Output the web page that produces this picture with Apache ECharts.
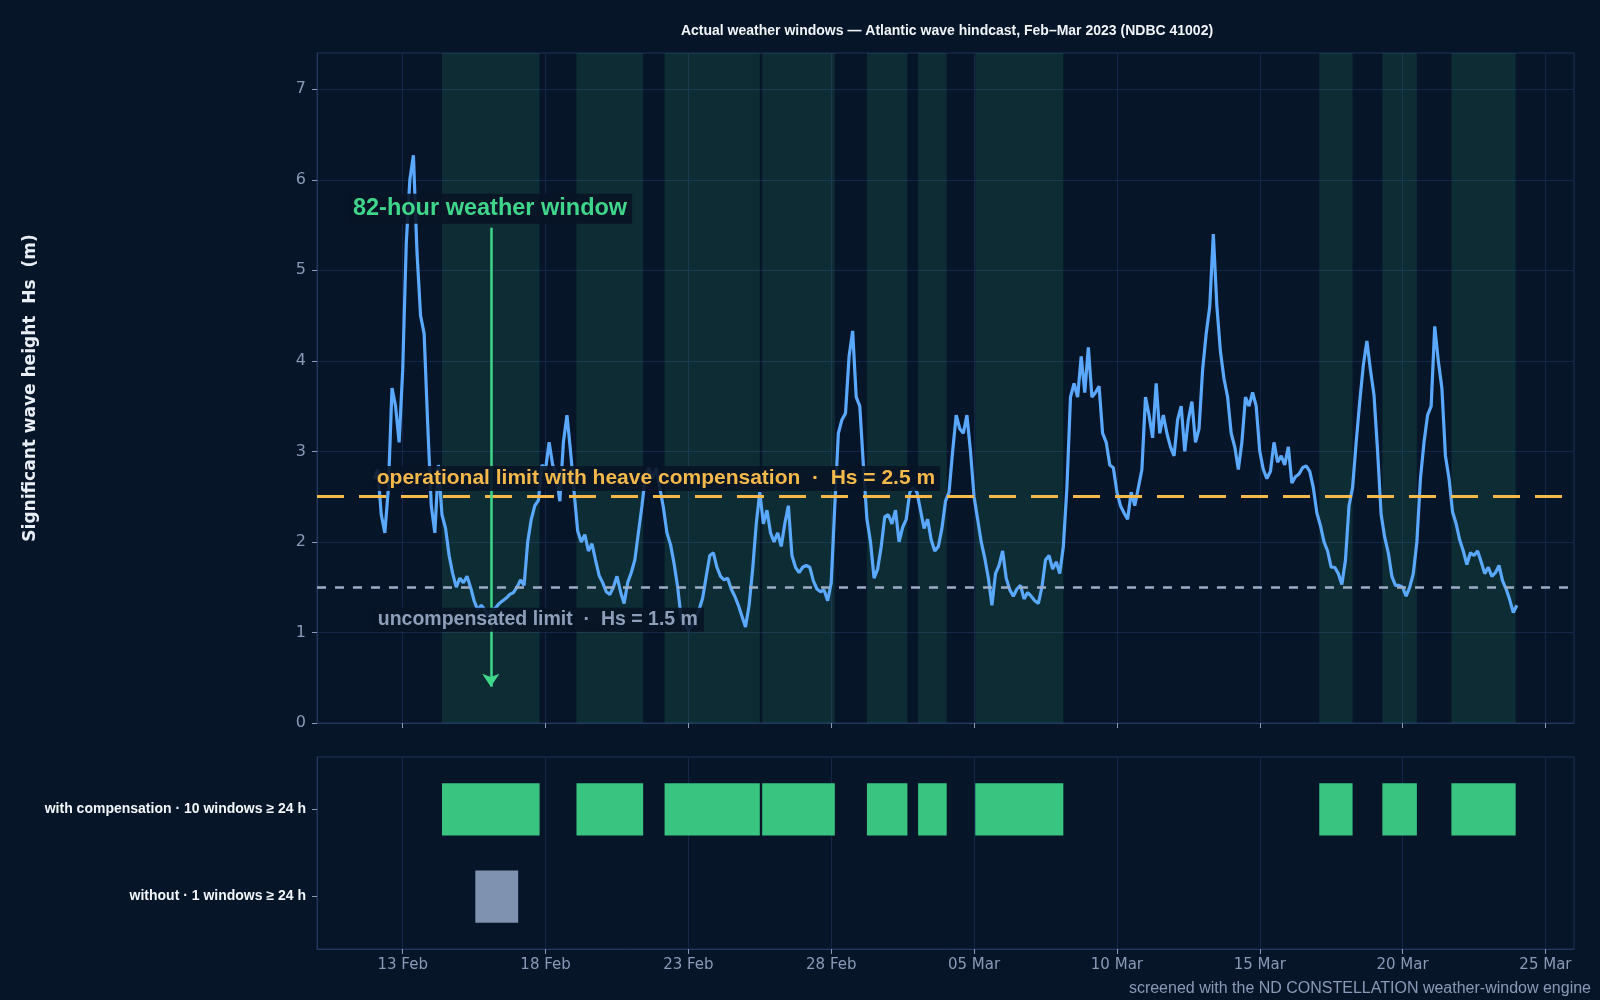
<!DOCTYPE html>
<html>
<head>
<meta charset="utf-8">
<script src="https://cdn.jsdelivr.net/npm/echarts@6/dist/echarts.min.js"></script>
<style>
html, body { margin: 0; padding: 0; background: #071529; }
#main { width: 1600px; height: 1000px; }
</style>
</head>
<body>
<div id="main"></div>
<script>
// hourly hindcast resampled every 3 h, starting 12 Feb 2023 00:00 UTC
const hsStart = Date.UTC(2023, 1, 12, 0)
const hsStepHours = 3
const hs = [
  2.7, 2.8, 2.3, 2.1, 2.6, 3.7, 3.5, 3.1,
  3.9, 5.3, 6.0, 6.27, 5.2, 4.5, 4.3, 3.3,
  2.4, 2.1, 2.85, 2.3, 2.15, 1.85, 1.65, 1.5,
  1.6, 1.55, 1.62, 1.5, 1.35, 1.25, 1.3, 1.25,
  1.18, 1.25, 1.27, 1.32, 1.35, 1.38, 1.42, 1.44,
  1.5, 1.58, 1.52, 2.0, 2.25, 2.4, 2.46, 2.85,
  2.8, 3.1, 2.85, 2.75, 2.45, 3.1, 3.4, 3.0,
  2.55, 2.12, 2.0, 2.08, 1.9, 1.98, 1.8, 1.63,
  1.55, 1.45, 1.42, 1.5, 1.62, 1.45, 1.32, 1.55,
  1.66, 1.8, 2.1, 2.4, 2.75, 2.82, 2.7, 2.82,
  2.6, 2.38, 2.1, 1.97, 1.76, 1.5, 1.15, 1.1,
  1.02, 1.08, 1.16, 1.25, 1.38, 1.62, 1.85, 1.88,
  1.72, 1.62, 1.58, 1.6, 1.48, 1.4, 1.3, 1.18,
  1.06, 1.3, 1.7, 2.2, 2.55, 2.2, 2.35, 2.1,
  2.0, 2.1, 1.95, 2.2, 2.4, 1.85, 1.72, 1.66,
  1.72, 1.74, 1.72, 1.57, 1.48, 1.45, 1.47, 1.35,
  1.55, 2.4, 3.2, 3.35, 3.42, 4.05, 4.33, 3.6,
  3.5, 2.85, 2.25, 2.0, 1.6, 1.7, 1.95, 2.28,
  2.3, 2.2, 2.35, 2.0, 2.16, 2.25, 2.55, 2.6,
  2.55, 2.35, 2.15, 2.25, 2.02, 1.9, 1.95, 2.15,
  2.45, 2.55, 3.0, 3.4, 3.25, 3.2, 3.4, 3.0,
  2.5, 2.25, 2.0, 1.82, 1.6, 1.3, 1.65, 1.74,
  1.9, 1.6, 1.47, 1.4, 1.48, 1.52, 1.37, 1.44,
  1.4, 1.35, 1.32, 1.5, 1.8, 1.85, 1.7, 1.78,
  1.65, 1.95, 2.6, 3.6, 3.75, 3.6, 4.05, 3.65,
  4.15, 3.6, 3.65, 3.72, 3.2, 3.1, 2.85, 2.82,
  2.55, 2.4, 2.32, 2.25, 2.55, 2.4, 2.6, 2.8,
  3.6, 3.4, 3.15, 3.75, 3.2, 3.4, 3.2, 3.05,
  2.95, 3.35, 3.5, 3.0, 3.35, 3.55, 3.1, 3.25,
  3.9, 4.3, 4.6, 5.4, 4.6, 4.1, 3.8, 3.6,
  3.2, 3.05, 2.8, 3.1, 3.6, 3.5, 3.65, 3.5,
  3.0, 2.8, 2.7, 2.78, 3.1, 2.88, 2.95, 2.85,
  3.05, 2.65, 2.72, 2.75, 2.82, 2.84, 2.78, 2.6,
  2.32, 2.18, 2.0, 1.9, 1.72, 1.72, 1.65, 1.53,
  1.8, 2.4, 2.6, 3.1, 3.55, 3.95, 4.22, 3.9,
  3.62, 3.0, 2.3, 2.05, 1.88, 1.62, 1.52, 1.52,
  1.5, 1.4, 1.5, 1.65, 2.0, 2.7, 3.1, 3.4,
  3.5, 4.38, 4.0, 3.7, 2.95, 2.7, 2.33, 2.2,
  2.02, 1.9, 1.75, 1.88, 1.85, 1.9, 1.78, 1.65,
  1.72, 1.62, 1.66, 1.74, 1.57, 1.48, 1.36, 1.22,
  1.3
]

// workable windows (>= 24 h) with heave compensation, Hs < 2.5 m
const compWindows = [
  ['2023-02-14T09:00Z', '2023-02-17T19:00Z'],
  ['2023-02-19T02:00Z', '2023-02-21T10:00Z'],
  ['2023-02-22T04:00Z', '2023-02-25T12:00Z'],
  ['2023-02-25T14:00Z', '2023-02-28T03:00Z'],
  ['2023-03-01T06:00Z', '2023-03-02T16:00Z'],
  ['2023-03-03T01:00Z', '2023-03-04T01:00Z'],
  ['2023-03-05T01:00Z', '2023-03-08T03:00Z'],
  ['2023-03-17T02:00Z', '2023-03-18T06:00Z'],
  ['2023-03-19T07:00Z', '2023-03-20T12:00Z'],
  ['2023-03-21T17:00Z', '2023-03-23T23:00Z']
]
// without compensation, Hs < 1.5 m
const uncompWindows = [
  ['2023-02-15T13:00Z', '2023-02-17T01:00Z']
]
const tickDates = ['2023-02-13', '2023-02-18', '2023-02-23', '2023-02-28', '2023-03-05',
  '2023-03-10', '2023-03-15', '2023-03-20', '2023-03-25']
const hsTicks = [0, 1, 2, 3, 4, 5, 6, 7]
const rowNames = ['without · 1 windows ≥ 24 h', 'with compensation · 10 windows ≥ 24 h']
const limitComp = 2.5
const limitUncomp = 1.5

const months = ['Jan', 'Feb', 'Mar', 'Apr', 'May', 'Jun', 'Jul', 'Aug', 'Sep', 'Oct', 'Nov', 'Dec']
const xMin = Date.UTC(2023, 1, 10)
const xMax = Date.UTC(2023, 2, 26)
const tickValues = tickDates.map(d => Date.parse(d + 'T00:00Z'))
const fmtDate = v => {
  const d = new Date(v)
  return String(d.getUTCDate()).padStart(2, '0') + ' ' + months[d.getUTCMonth()]
}

const hsData = hs.map((v, i) => [hsStart + i * hsStepHours * 3600000, v])
const comp = compWindows.map(w => [Date.parse(w[0]), Date.parse(w[1])])
const uncomp = uncompWindows.map(w => [Date.parse(w[0]), Date.parse(w[1])])
const firstMid = (comp[0][0] + comp[0][1]) / 2

const bg = '#071529'
const gridLine = '#14274a'
const axisCol = '#22385e'
const tickText = '#8a9ab6'
const labelBg = 'rgba(8,20,37,0.9)'
const sans = 'Liberation Sans'

var chartDom = document.getElementById('main')
var myChart = echarts.init(chartDom)

const xAxisBase = {
  type: 'value',
  min: xMin,
  max: xMax,
  axisLine: { show: true, onZero: false, lineStyle: { color: axisCol } },
  axisTick: { show: true, customValues: tickValues, length: 5, lineStyle: { color: '#8a9ab6' } },
  splitLine: { show: true, lineStyle: { color: gridLine, width: 1 } }
}

var option = {
  backgroundColor: bg,
  animation: false,
  title: [
    {
      text: 'Actual weather windows — Atlantic wave hindcast, Feb–Mar 2023 (NDBC 41002)',
      left: 942,
      top: 19,
      textAlign: 'center',
      textStyle: { color: '#f1f4f8', fontSize: 14, fontWeight: 'bold', fontFamily: sans }
    },
    {
      text: 'screened with the ND CONSTELLATION weather-window engine',
      right: 4,
      top: 976,
      textStyle: { color: '#8a9ab6', fontSize: 16, fontWeight: 'normal', fontFamily: sans }
    }
  ],
  grid: [
    { left: 317, right: 26, top: 53, height: 670, show: true, borderColor: '#1f3356', borderWidth: 1, backgroundColor: 'transparent' },
    { left: 317, right: 26, top: 757, height: 192, show: true, borderColor: '#1f3356', borderWidth: 1, backgroundColor: 'transparent' }
  ],
  xAxis: [
    Object.assign({}, xAxisBase, {
      gridIndex: 0,
      axisLabel: { show: false, customValues: tickValues }
    }),
    Object.assign({}, xAxisBase, {
      gridIndex: 1,
      axisLabel: { show: true, customValues: tickValues, formatter: fmtDate, color: tickText, fontSize: 15, fontFamily: 'DejaVu Sans', margin: 9 }
    })
  ],
  yAxis: [
    {
      type: 'value',
      gridIndex: 0,
      min: 0,
      max: 7.4,
      name: 'Significant wave height  Hs  (m)',
      nameLocation: 'middle',
      nameRotate: 90,
      nameGap: 278,
      nameTextStyle: { color: '#e9eef5', fontSize: 17, fontWeight: 'bold', fontFamily: 'DejaVu Sans' },
      axisLine: { show: true, lineStyle: { color: axisCol } },
      axisTick: { show: true, customValues: hsTicks, length: 5, lineStyle: { color: '#8a9ab6' } },
      axisLabel: { customValues: hsTicks, color: tickText, fontSize: 16, fontFamily: 'DejaVu Sans', margin: 11 },
      splitLine: { show: true, lineStyle: { color: gridLine } }
    },
    {
      type: 'value',
      gridIndex: 1,
      min: -0.6,
      max: 1.6,
      axisLine: { show: true, lineStyle: { color: axisCol } },
      axisTick: { show: true, customValues: [0, 1], length: 5, lineStyle: { color: '#8a9ab6' } },
      axisLabel: {
        customValues: [0, 1],
        formatter: v => rowNames[Math.round(v)],
        color: '#f3f6fa', fontSize: 14, fontWeight: 'bold', fontFamily: sans, margin: 11
      },
      splitLine: { show: false }
    }
  ],
  series: [
    {
      // shaded compensated windows + limit labels (below the Hs line)
      type: 'line',
      xAxisIndex: 0,
      yAxisIndex: 0,
      data: [],
      z: 1,
      silent: true,
      markArea: {
        silent: true,
        itemStyle: { color: 'rgba(60,200,130,0.13)' },
        data: comp.map(w => [{ xAxis: w[0] }, { xAxis: w[1] }])
      },
      markLine: {
        silent: true,
        symbol: 'none',
        label: { show: false },
        data: [
          { yAxis: limitComp, lineStyle: { color: '#f5b84a', width: 3, type: [27, 15] } },
          { yAxis: limitUncomp, lineStyle: { color: '#9dadc6', width: 2.5, type: [9, 9] } }
        ]
      },
      markPoint: {
        silent: true,
        symbol: 'circle',
        symbolSize: 0,
        data: [
          {
            coord: [Date.UTC(2023, 1, 11, 22), 2.70],
            label: {
              show: true, position: 'right', distance: 0,
              formatter: 'operational limit with heave compensation  ·  Hs = ' + limitComp + ' m',
              color: '#f5b84a', fontSize: 21, fontWeight: 'bold', fontFamily: sans,
              backgroundColor: labelBg, padding: [2, 5]
            }
          },
          {
            coord: [Date.UTC(2023, 1, 11, 22), 1.14],
            label: {
              show: true, position: 'right', distance: 0,
              formatter: 'uncompensated limit  ·  Hs = ' + limitUncomp + ' m',
              color: '#8e9fba', fontSize: 19.5, fontWeight: 'bold', fontFamily: sans,
              backgroundColor: labelBg, padding: [2, 6]
            }
          },
          {
            coord: [Date.UTC(2023, 1, 11, 2), 5.68],
            label: {
              show: true, position: 'right', distance: 0,
              formatter: '82-hour weather window',
              color: '#3fd68a', fontSize: 23.5, fontWeight: 'bold', fontFamily: sans,
              backgroundColor: labelBg, padding: [3, 5]
            }
          }
        ]
      }
    },
    {
      name: 'Hs',
      type: 'line',
      xAxisIndex: 0,
      yAxisIndex: 0,
      data: hsData,
      z: 3,
      showSymbol: false,
      symbol: 'none',
      lineStyle: { color: '#5aa8ff', width: 3.2 },
      silent: true
    },
    {
      // arrow pointing into the first window
      type: 'line',
      xAxisIndex: 0,
      yAxisIndex: 0,
      data: [],
      z: 4,
      markLine: {
        silent: true,
        symbol: ['none', 'arrow'],
        symbolSize: [13, 13],
        label: { show: false },
        lineStyle: { color: '#3fd68a', width: 2.5, type: 'solid' },
        data: [[{ coord: [firstMid, 5.47] }, { coord: [firstMid, 0.4] }]]
      }
    },
    {
      type: 'custom',
      xAxisIndex: 1,
      yAxisIndex: 1,
      silent: true,
      encode: { x: [0, 1], y: 2 },
      data: comp.map(w => [w[0], w[1], 1]).concat(uncomp.map(w => [w[0], w[1], 0])),
      renderItem: (params, api) => {
        const row = api.value(2)
        const s = api.coord([api.value(0), row])
        const e = api.coord([api.value(1), row])
        const h = api.size([0, 0.6])[1]
        return {
          type: 'rect',
          shape: { x: s[0], y: s[1] - h / 2, width: e[0] - s[0], height: h },
          style: { fill: row === 1 ? '#39c580' : '#7f92b0' }
        }
      }
    }
  ]
}

option && myChart.setOption(option)
</script>
</body>
</html>
